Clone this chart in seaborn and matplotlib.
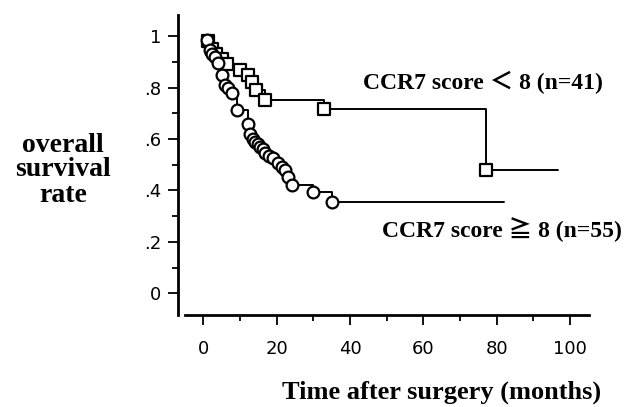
import numpy as np
import pandas as pd
import matplotlib
matplotlib.use("Agg")
import matplotlib.pyplot as plt
import seaborn as sns

# Kaplan-Meier style curves
# CCR7 score < 8 (n=41), square markers
low_months = [0, 1.2, 2.4, 3.4, 5.0, 6.6, 10.0, 12.3, 13.2, 14.3, 16.8, 32.8, 77.0]
low_surv = [1.0, 0.98, 0.95, 0.93, 0.91, 0.89, 0.87, 0.85, 0.82, 0.79, 0.752, 0.715, 0.48]
low_end = 96.7

# CCR7 score >= 8 (n=55), circle markers
high_months = [0, 1.0, 1.8, 2.5, 3.2, 4.1, 5.0, 5.9, 6.8, 7.7, 9.1, 12.3, 12.8,
               13.5, 14.1, 14.8, 15.5, 16.2, 16.8, 18.0, 19.1, 20.5, 21.4,
               22.3, 23.2, 24.1, 30.0, 35.0]
high_surv = [1.0, 0.985, 0.946, 0.93, 0.92, 0.894, 0.848, 0.81, 0.797, 0.777,
             0.712, 0.66, 0.62, 0.60, 0.589, 0.58, 0.57, 0.56, 0.544, 0.535,
             0.525, 0.505, 0.49, 0.479, 0.453, 0.421, 0.395, 0.356]
high_end = 82.0

xticks = [0, 20, 40, 60, 80, 100]
yticks = [0, 0.2, 0.4, 0.6, 0.8, 1.0]
ytick_labels = ["0", ".2", ".4", ".6", ".8", "1"]

label_low = "CCR7 score \uff1c 8 (n=41)"
label_high = "CCR7 score \u2267 8 (n=55)"

sns.set_style("ticks")
plt.rcParams["font.family"] = ["DejaVu Sans"]
plt.rcParams["text.color"] = "black"

fig = plt.figure(figsize=(6.33, 4.07), dpi=100)
ax = fig.add_axes([0.2812, 0.2260, 0.6493, 0.7371])

serif = ["Liberation Serif", "DejaVu Serif", "Noto Sans CJK JP", "DejaVu Sans"]

for months, surv, end, mk in [(low_months, low_surv, low_end, "s"),
                              (high_months, high_surv, high_end, "o")]:
    line_df = pd.DataFrame({"t": months + [end], "s": surv + [surv[-1]]})
    sns.lineplot(data=line_df, x="t", y="s", ax=ax, drawstyle="steps-post",
                 color="black", linewidth=1.4, estimator=None, sort=False)
    pts = pd.DataFrame({"t": months[1:], "s": surv[1:]})
    sns.scatterplot(data=pts, x="t", y="s", ax=ax, marker=mk, s=72,
                    facecolor="white", edgecolor="black", linewidth=1.6,
                    zorder=3)

ax.set_xlim(-6.9, 105.2)
ax.set_ylim(-0.084, 1.082)
ax.set_xticks(xticks)
ax.set_xticks(np.arange(0, 101, 10), minor=True)
ax.set_yticks(yticks)
ax.set_yticklabels(ytick_labels)
ax.set_yticks(np.arange(0, 1.01, 0.1), minor=True)
ax.tick_params(axis="both", which="major", length=7, width=1.3,
               labelsize=13, color="black", labelcolor="black")
ax.tick_params(axis="both", which="minor", length=4, width=1.3, color="black")
ax.tick_params(axis="x", which="major", pad=11)
ax.tick_params(axis="y", which="major", pad=5)

sns.despine(ax=ax)
ax.spines["left"].set_linewidth(2)
ax.spines["bottom"].set_linewidth(2)
ax.spines["left"].set_color("black")
ax.spines["bottom"].set_color("black")
ax.spines["bottom"].set_bounds(-5, 105.2)
ax.set_xlabel("")
ax.set_ylabel("")

fig.text(363 / 633, 1 - 82 / 407, label_low, family=serif, fontweight="bold",
         fontsize=17, ha="left", va="center", color="black")
fig.text(382 / 633, 1 - 230 / 407, label_high, family=serif, fontweight="bold",
         fontsize=17, ha="left", va="center", color="black")
fig.text(63 / 633, 1 - 170 / 407, "overall\nsurvival\nrate", family=serif,
         fontweight="bold", fontsize=20, ha="center", va="center",
         multialignment="center", linespacing=1.0, color="black")
fig.text(442 / 633, 1 - 392 / 407, "Time after surgery (months)", family=serif,
         fontweight="bold", fontsize=19, ha="center", va="center", color="black")

fig.savefig("out.png", dpi=100)
